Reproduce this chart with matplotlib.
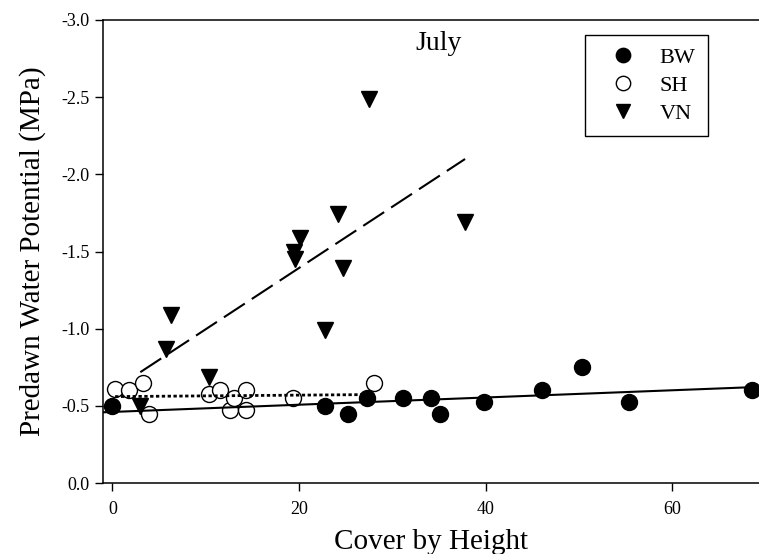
import numpy as np
import matplotlib
matplotlib.use("Agg")
import matplotlib.pyplot as plt

plt.rcParams['font.family'] = ['Liberation Serif', 'DejaVu Serif']
plt.rcParams['axes.unicode_minus'] = False

# predawn water potential (MPa) vs cover by height, July
bw_x = [0.0, 22.8, 25.3, 27.3, 31.2, 34.2, 35.1, 39.8, 46.0, 50.3, 55.4, 68.5]
bw_y = [-0.50, -0.50, -0.45, -0.55, -0.55, -0.55, -0.45, -0.525, -0.60, -0.75, -0.525, -0.60]

sh_x = [0.3, 1.8, 3.3, 3.9, 10.4, 11.5, 12.6, 13.0, 14.3, 14.3, 19.4, 28.0]
sh_y = [-0.61, -0.60, -0.65, -0.45, -0.575, -0.60, -0.475, -0.55, -0.60, -0.475, -0.55, -0.65]

vn_x = [3.0, 5.8, 6.3, 10.4, 19.5, 19.6, 20.1, 22.8, 24.2, 24.7, 27.5, 37.8]
vn_y = [-0.50, -0.87, -1.09, -0.69, -1.50, -1.45, -1.59, -0.99, -1.74, -1.39, -2.49, -1.69]

y_ticks = [0.0, -0.5, -1.0, -1.5, -2.0, -2.5, -3.0]
x_ticks = [0, 20, 40, 60]

fig = plt.figure(figsize=(7.59, 5.54), dpi=100)
ax = fig.add_axes([0.1357, 0.128, 0.8643, 0.836])
ax.set_xlim(-1, 69.3)
ax.set_ylim(0, -3)

ms = 11.5
ax.plot(bw_x, bw_y, 'o', color='black', ms=ms, zorder=3, label='BW')
ax.plot(vn_x, vn_y, 'v', color='black', ms=11, zorder=3, label='VN')
ax.plot(sh_x, sh_y, 'o', mfc='white', mec='black', mew=1.0, ms=ms, zorder=4, label='SH')

# linear regressions
xmin = ax.get_xlim()[0]
p = np.polyfit(bw_x, bw_y, 1)
xs = np.array([xmin, max(bw_x)])
ax.plot(xs, np.polyval(p, xs), color='black', lw=1.5, zorder=5)

p = np.polyfit(sh_x, sh_y, 1)
xs = np.array([min(sh_x), max(sh_x)])
ax.plot(xs, np.polyval(p, xs), color='black', lw=2, dashes=(1.2, 0.9), zorder=5)

p = np.polyfit(vn_x, vn_y, 1)
xs = np.array([min(vn_x), max(vn_x)])
ax.plot(xs, np.polyval(p, xs), color='black', lw=1.5, dashes=(12, 4), zorder=5)

ax.set_yticks(y_ticks)
ax.set_yticklabels(['%.1f' % v for v in y_ticks])
ax.set_xticks(x_ticks)
ax.tick_params(direction='out', length=5.5, width=1.0, labelsize=13, pad=4)
ax.tick_params(axis='x', pad=7.5)
ax.spines['right'].set_visible(False)
for s in ['left', 'top', 'bottom']:
    ax.spines[s].set_linewidth(1.1)

ax.set_xlabel('Cover by Height', fontsize=21, labelpad=8)
ax.set_ylabel('Predawn Water Potential (MPa)', fontsize=21, labelpad=11)

ax.text(0.511, 0.935, 'July', transform=ax.transAxes, ha='center', va='baseline', fontsize=20)

h, l = ax.get_legend_handles_labels()
order = [0, 2, 1]
leg = ax.legend([h[i] for i in order], [l[i] for i in order], loc='upper left',
                bbox_to_anchor=(0.735, 0.968), borderaxespad=0, fontsize=16,
                frameon=True, fancybox=False, edgecolor='black', framealpha=1,
                handlelength=2.3, handletextpad=0.5, labelspacing=0.35, borderpad=0.55,
                markerscale=0.9)
leg.get_frame().set_linewidth(1.0)

fig.savefig('out.png', dpi=100)
